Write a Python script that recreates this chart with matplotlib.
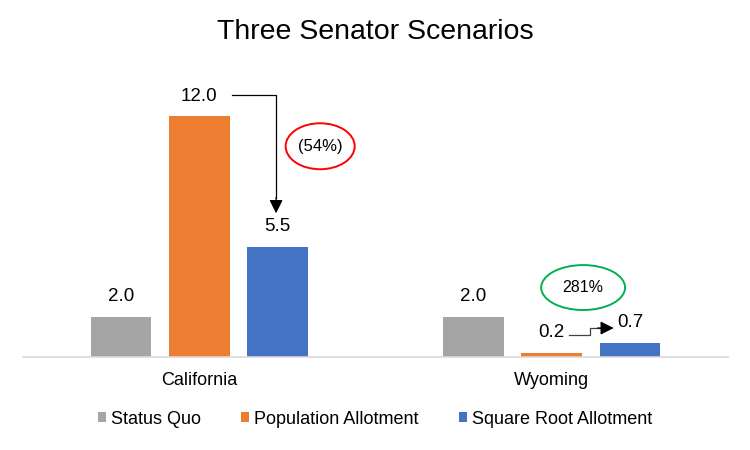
import matplotlib
matplotlib.use("Agg")
import matplotlib.pyplot as plt
from matplotlib.patches import Ellipse

plt.rcParams['font.family'] = ['Liberation Sans', 'DejaVu Sans']

categories = ["California", "Wyoming"]
series_names = ["Status Quo", "Population Allotment", "Square Root Allotment"]
status_quo = [2.0, 2.0]
population = [12.0, 0.2]
square_root = [5.5, 0.7]
changes = ["(54%)", "281%"]

colors = ["#A5A5A5", "#ED7D31", "#4472C4"]

fig = plt.figure(figsize=(7.5, 4.5), dpi=100)
ax = fig.add_axes([23/750, 93/450, 705/750, 281/450])

bw = 0.173
step = 0.222
data = [status_quo, population, square_root]
xs = list(range(len(categories)))
for i, (name, vals, c) in enumerate(zip(series_names, data, colors)):
    pos = [x + (i - 1) * step for x in xs]
    ax.bar(pos, vals, width=bw, color=c, label=name)
    for p, v in zip(pos, vals):
        ax.annotate(f"{v:.1f}", (p, v), xytext=(0, 20), textcoords='offset pixels',
                    ha='center', va='center', fontsize=13.5)

ax.set_xlim(-0.5, 1.5)
ax.set_ylim(0, 14)
for s in ax.spines.values():
    s.set_visible(False)
ax.axhline(0, color="#D9D9D9", lw=1.2, clip_on=False)
ax.set_yticks([])
ax.set_xticks(xs)
ax.set_xticklabels(categories, fontsize=13)
ax.tick_params(axis='x', length=0, pad=11)

arrow_props = dict(arrowstyle='-|>,head_length=0.9,head_width=0.45', color='black',
                   lw=0.9, mutation_scale=9, shrinkA=0, shrinkB=0)

# California arrow
ax.plot([0.094, 0.218, 0.218], [13.03, 13.03, 7.9], color='black', lw=0.9)
ax.annotate("", xy=(0.218, 7.16), xytext=(0.218, 7.95), arrowprops=arrow_props)
ax.add_patch(Ellipse((0.343, 10.5), 0.196, 2.29, fill=False, edgecolor='#FF0000', lw=1.4))
ax.text(0.343, 10.5, changes[0], ha='center', va='center', fontsize=12)

# Wyoming arrow
ax.plot([1.049, 1.109, 1.109, 1.14], [1.10, 1.10, 1.443, 1.443], color='#404040', lw=0.9)
ax.annotate("", xy=(1.176, 1.443), xytext=(1.13, 1.443), arrowprops=arrow_props)
ax.add_patch(Ellipse((1.089, 3.46), 0.238, 2.24, fill=False, edgecolor='#00B050', lw=1.4))
ax.text(1.089, 3.46, changes[1], ha='center', va='center', fontsize=11.5)

fig.suptitle("Three Senator Scenarios", y=1 - 32/450, va='center', fontsize=20.5)
fig.legend(loc='center', bbox_to_anchor=(0.5, 1 - 419/450), ncol=3, frameon=False,
           fontsize=13, handlelength=0.45, handleheight=0.45, handletextpad=0.3,
           columnspacing=2.2)

fig.savefig("out.png", dpi=100)
